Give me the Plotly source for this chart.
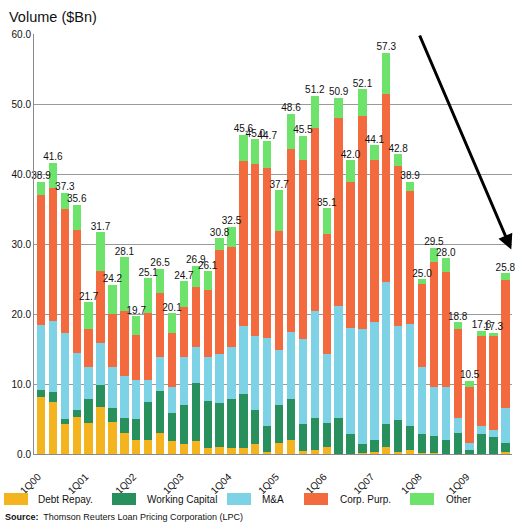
import plotly.graph_objects as go

quarters = [f"{q}Q{y:02d}" for y in range(0, 10) for q in range(1, 5)]
tick_labels = [f"1Q{y:02d}" for y in range(0, 10)]

debt_repay = [8.2, 7.5, 4.3, 5.3, 4.5, 6.7, 4.6, 3.0, 2.0, 2.0,
              3.0, 1.9, 1.4, 1.9, 0.9, 1.0, 0.9, 0.8, 1.5, 0.3,
              1.6, 2.0, 0.5, 0.6, 1.0, 0.0, 0.0, 0.2, 0.3, 1.0,
              0.3, 0.6, 0.2, 0.2, 0.0, 0.0, 0.0, 0.0, 0.0, 0.3]
working_capital = [1.0, 1.3, 0.7, 1.0, 3.3, 3.1, 2.0, 2.2, 3.0, 5.5,
                   6.0, 4.0, 5.6, 8.3, 6.7, 6.3, 6.9, 7.8, 4.8, 3.7,
                   5.4, 5.8, 3.8, 4.6, 3.5, 5.2, 2.9, 1.3, 1.7, 3.3,
                   4.6, 3.4, 2.7, 2.4, 2.0, 3.0, 0.6, 2.9, 2.5, 1.3]
m_and_a = [9.2, 10.2, 12.3, 8.2, 4.6, 6.0, 5.8, 5.9, 5.6, 3.1,
           4.8, 3.7, 6.8, 5.1, 6.2, 7.0, 7.5, 9.7, 10.6, 12.6,
           7.8, 9.7, 12.2, 15.3, 9.8, 16.0, 15.1, 16.4, 16.9, 20.3,
           13.4, 14.6, 9.6, 7.0, 7.6, 2.2, 1.0, 1.1, 1.0, 5.0]
corp_purp = [18.6, 19.0, 17.7, 17.5, 5.4, 10.3, 7.6, 9.4, 6.4, 9.6,
             9.2, 7.7, 7.2, 8.6, 9.7, 14.9, 14.3, 23.5, 24.6, 24.3,
             17.0, 26.1, 25.5, 26.1, 17.2, 26.8, 20.9, 30.4, 23.1, 26.9,
             22.8, 19.0, 11.8, 17.9, 16.4, 12.6, 8.0, 12.9, 13.4, 18.3]
totals = [38.9, 41.6, 37.3, 35.6, 21.7, 31.7, 24.2, 28.1, 19.7, 25.1,
          26.5, 20.1, 24.7, 26.9, 26.1, 30.8, 32.5, 45.6, 45.0, 44.7,
          37.7, 48.6, 45.5, 51.2, 35.1, 50.9, 42.0, 52.1, 44.1, 57.3,
          42.8, 38.9, 25.0, 29.5, 28.0, 18.8, 10.5, 17.6, 17.3, 25.8]
other = [round(t - a - b - c - d, 2) for t, a, b, c, d in
         zip(totals, debt_repay, working_capital, m_and_a, corp_purp)]

series = [
    ("Debt Repay.", debt_repay, "#F4B41F"),
    ("Working Capital", working_capital, "#27905C"),
    ("M&A", m_and_a, "#7ED2E6"),
    ("Corp. Purp.", corp_purp, "#F26A3E"),
    ("Other", other, "#6DE36C"),
]

x = list(range(len(quarters)))
tick_positions = [i for i, q in enumerate(quarters) if q.startswith("1Q")]
FONT = "Liberation Sans, Arial, sans-serif"

fig = go.Figure()
for name, vals, col in series:
    fig.add_trace(go.Bar(x=x, y=vals, name=name, marker=dict(color=col, line=dict(width=0)),
                         width=0.7, showlegend=False, hovertext=quarters))

fig.add_trace(go.Scatter(x=x, y=totals, mode="text", text=[f"{t:.1f}" for t in totals],
                         textposition="top center", textfont=dict(family=FONT, size=10, color="#111"),
                         showlegend=False, cliponaxis=False))

W, H = 521, 528
L, R, T, B = 34, 9, 34, 74


def px(xp):
    return (xp - L) / (W - L - R)


def py(yp):
    return (H - B - yp) / (H - B - T)


shapes = []
annotations = []
legend_pos = [(4, 36), (112, 145), (227, 260), (304, 338), (410, 444)]
for (name, vals, col), (sx, tx) in zip(series, legend_pos):
    shapes.append(dict(type="rect", xref="paper", yref="paper",
                       x0=px(sx), x1=px(sx + 24), y0=py(505), y1=py(493),
                       fillcolor=col, line=dict(width=0)))
    annotations.append(dict(xref="paper", yref="paper", x=px(tx), y=py(499),
                            text=name, showarrow=False, xanchor="left", yanchor="middle",
                            font=dict(family=FONT, size=10, color="#111")))

annotations.append(dict(xref="paper", yref="paper", x=px(3), y=py(517),
                        text="<b>Source:</b>  Thomson Reuters Loan Pricing Corporation (LPC)",
                        showarrow=False, xanchor="left", yanchor="middle",
                        font=dict(family=FONT, size=9, color="#111")))
annotations.append(dict(xref="paper", yref="paper", x=px(7), y=py(17),
                        text="Volume ($Bn)", showarrow=False, xanchor="left", yanchor="middle",
                        font=dict(family=FONT, size=14.5, color="#111")))
annotations.append(dict(x=39.5, y=29.2, ax=31.75, ay=60, xref="x", yref="y",
                        axref="x", ayref="y", text="", showarrow=True,
                        arrowhead=2, arrowsize=1, arrowwidth=3, arrowcolor="#000"))

fig.update_layout(
    width=W, height=H, barmode="stack",
    margin=dict(l=L, r=R, t=T, b=B),
    paper_bgcolor="white", plot_bgcolor="white",
    font=dict(family=FONT, size=10, color="#111"),
    shapes=shapes, annotations=annotations,
    xaxis=dict(range=[-0.59, 39.56], tickmode="array",
               tickvals=[p - 0.25 for p in tick_positions], ticktext=tick_labels,
               tickangle=-45, showgrid=False, showline=True, linecolor="#8a8a8a",
               linewidth=1, ticks="outside", ticklen=12, tickcolor="white", tickwidth=0.1,
               zeroline=False,
               tickfont=dict(family=FONT, size=10, color="#111")),
    yaxis=dict(range=[0, 60], dtick=10, tickformat=".1f", showgrid=True,
               gridcolor="#9a9a9a", gridwidth=1, showline=True, linecolor="#8a8a8a",
               linewidth=1, zeroline=False, ticks="",
               tickfont=dict(family=FONT, size=10, color="#111")),
)

fig.write_html("out.html")
